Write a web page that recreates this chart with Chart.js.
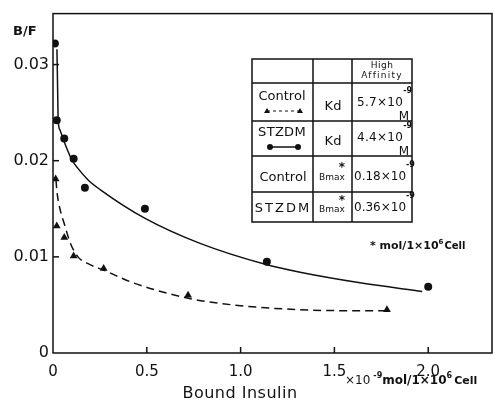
<!DOCTYPE html>
<html><head><meta charset="utf-8">
<script src="https://cdn.jsdelivr.net/npm/chart.js@4.4.0/dist/chart.umd.min.js"></script>
<style>html,body{margin:0;padding:0;background:#fff;}canvas{display:block;}</style>
</head><body>
<canvas id="c" width="501" height="410"></canvas>
<script>
// ---- data ----
const stzdmX = [0.01, 0.02, 0.06, 0.11, 0.17, 0.49, 1.14, 2.0];
const stzdmY = [0.0322, 0.0242, 0.0223, 0.0202, 0.0172, 0.0150, 0.0095, 0.0069];
const controlX = [0.014, 0.02, 0.06, 0.11, 0.27, 0.72, 1.78];
const controlY = [0.0181, 0.0132, 0.0120, 0.0101, 0.0088, 0.0060, 0.0045];
const stzdmFitX = [0.021, 0.024, 0.028, 0.037, 0.053, 0.100, 0.133, 0.187, 0.251, 0.491, 0.784, 1.136, 1.317, 1.637, 1.968];
const stzdmFitY = [0.0316, 0.0282, 0.0241, 0.0232, 0.0223, 0.0201, 0.0192, 0.0180, 0.0170, 0.0140, 0.0114, 0.0092, 0.0084, 0.0073, 0.0064];
const controlFitX = [0.016, 0.021, 0.037, 0.064, 0.091, 0.133, 0.197, 0.272, 0.427, 0.72, 0.96, 1.317, 1.637, 1.77];
const controlFitY = [0.0180, 0.0168, 0.0150, 0.0132, 0.0115, 0.0100, 0.0092, 0.0086, 0.0073, 0.0057, 0.0050, 0.0045, 0.0044, 0.0044];
const xTicks = [0, 0.5, 1.0, 1.5, 2.0];
const xTickLabels = ['0', '0.5', '1.0', '1.5', '2.0'];
const yTicks = [0, 0.01, 0.02, 0.03];
const yTickLabels = ['0', '0.01', '0.02', '0.03'];
const xMax = 2.34, yMax = 0.0353;

function pts(xs, ys) { return xs.map((x, i) => ({ x: x, y: ys[i] })); }
const INK = '#111';
const FONT = '"DejaVu Sans", "Liberation Sans", sans-serif';

function txt(ctx, s, x, y, size, opts) {
  opts = opts || {};
  ctx.font = (opts.bold ? 'bold ' : '') + size + 'px ' + FONT;
  ctx.textAlign = opts.align || 'left';
  ctx.textBaseline = 'middle';
  try { ctx.letterSpacing = (opts.ls || 0) + 'px'; } catch (e) {}
  ctx.fillStyle = INK;
  ctx.fillText(s, x, y);
  const w = ctx.measureText(s).width;
  try { ctx.letterSpacing = '0px'; } catch (e) {}
  return w;
}

const decor = {
  id: 'decor',
  afterDraw(chart) {
    const ctx = chart.ctx, a = chart.chartArea;
    const xs = chart.scales.x, ys = chart.scales.y;
    ctx.save();
    ctx.strokeStyle = INK;
    ctx.lineWidth = 1.5;
    ctx.strokeRect(a.left, a.top, a.right - a.left, a.bottom - a.top);
    // inward ticks
    xTicks.forEach(v => { if (v === 0) return; const p = xs.getPixelForValue(v);
      ctx.beginPath(); ctx.moveTo(p, a.bottom); ctx.lineTo(p, a.bottom - 6); ctx.stroke(); });
    yTicks.forEach(v => { if (v === 0) return; const p = ys.getPixelForValue(v);
      ctx.beginPath(); ctx.moveTo(a.left, p); ctx.lineTo(a.left + 6, p); ctx.stroke(); });

    // axis texts
    txt(ctx, 'B/F', 13, 32, 13, { bold: true });
    txt(ctx, 'Bound Insulin', 240, 394, 16, { align: 'center', ls: 0.5 });
    let x = 345, y = 381;
    x += txt(ctx, '\u00d710', x, y, 12) + 3;
    x += txt(ctx, '-9', x, y - 5, 8, { bold: true });
    x += txt(ctx, 'mol/1\u00d710', x, y, 12, { bold: true });
    x += txt(ctx, '6', x, y - 5, 8, { bold: true }) + 2;
    txt(ctx, 'Cell', x, y, 11, { bold: true });

    // table
    const L = 252, C1 = 313, C2 = 352, R = 412;
    const rows = [59, 83, 121, 156, 192, 222];
    ctx.fillStyle = '#fff';
    ctx.fillRect(L, rows[0], R - L, rows[5] - rows[0]);
    ctx.lineWidth = 1.5;
    ctx.strokeRect(L, rows[0], R - L, rows[5] - rows[0]);
    ctx.beginPath();
    [C1, C2].forEach(c => { ctx.moveTo(c, rows[0]); ctx.lineTo(c, rows[5]); });
    rows.slice(1, 5).forEach(r => { ctx.moveTo(L, r); ctx.lineTo(R, r); });
    ctx.stroke();

    txt(ctx, 'High', 382, 66, 9, { align: 'center', ls: 0.5 });
    txt(ctx, 'Affinity', 382, 76, 9, { align: 'center', ls: 1.2 });

    // row 1
    txt(ctx, 'Control', 282, 97, 13, { align: 'center' });
    ctx.save(); ctx.lineWidth = 1; ctx.setLineDash([3, 3]);
    ctx.beginPath(); ctx.moveTo(267, 111); ctx.lineTo(300, 111); ctx.stroke(); ctx.restore();
    [267, 300].forEach(px => { ctx.beginPath(); ctx.moveTo(px, 108); ctx.lineTo(px + 3, 113); ctx.lineTo(px - 3, 113); ctx.closePath(); ctx.fillStyle = INK; ctx.fill(); });
    txt(ctx, 'Kd', 333, 107, 13, { align: 'center' });
    let w = txt(ctx, '5.7\u00d710', 357, 103, 12, { ls: 0.3 });
    txt(ctx, '-9', 357 + w, 91, 8, { bold: true });
    txt(ctx, 'M', 409, 117, 12, { align: 'right' });

    // row 2
    txt(ctx, 'STZDM', 282, 133, 13, { align: 'center', ls: 0.3 });
    ctx.save(); ctx.lineWidth = 1.5;
    ctx.beginPath(); ctx.moveTo(270, 147); ctx.lineTo(298, 147); ctx.stroke(); ctx.restore();
    [270, 298].forEach(px => { ctx.beginPath(); ctx.arc(px, 147, 3, 0, Math.PI * 2); ctx.fillStyle = INK; ctx.fill(); });
    txt(ctx, 'Kd', 333, 142, 13, { align: 'center' });
    w = txt(ctx, '4.4\u00d710', 357, 138, 12, { ls: 0.3 });
    txt(ctx, '-9', 357 + w, 126, 8, { bold: true });
    txt(ctx, 'M', 409, 152, 12, { align: 'right' });

    // row 3
    txt(ctx, 'Control', 283, 178, 13, { align: 'center' });
    txt(ctx, 'Bmax', 332, 178, 9, { align: 'center' });
    txt(ctx, '*', 342, 168, 12, { align: 'center', bold: true });
    w = txt(ctx, '0.18\u00d710', 354, 177, 12);
    txt(ctx, '-9', 354 + w, 165, 8, { bold: true });

    // row 4
    txt(ctx, 'STZDM', 283, 209, 13, { align: 'center', ls: 2 });
    txt(ctx, 'Bmax', 332, 210, 9, { align: 'center' });
    txt(ctx, '*', 342, 201, 12, { align: 'center', bold: true });
    w = txt(ctx, '0.36\u00d710', 354, 208, 12);
    txt(ctx, '-9', 354 + w, 196, 8, { bold: true });

    // footnote
    x = 370; y = 246;
    x += txt(ctx, '* mol/1\u00d710', x, y, 11, { bold: true });
    x += txt(ctx, '6', x, y - 4, 7, { bold: true }) + 1;
    txt(ctx, 'Cell', x, y, 10, { bold: true });
    ctx.restore();
  }
};

new Chart(document.getElementById('c'), {
  type: 'scatter',
  data: {
    datasets: [
      { label: 'STZDM fit', data: pts(stzdmFitX, stzdmFitY), showLine: true, borderColor: INK, borderWidth: 1.5,
        pointRadius: 0, cubicInterpolationMode: 'monotone', fill: false },
      { label: 'Control fit', data: pts(controlFitX, controlFitY), showLine: true, borderColor: INK, borderWidth: 1.5,
        borderDash: [8, 5], pointRadius: 0, cubicInterpolationMode: 'monotone', fill: false },
      { label: 'STZDM', data: pts(stzdmX, stzdmY), showLine: false, pointStyle: 'circle', pointRadius: 4,
        backgroundColor: INK, borderColor: INK, borderWidth: 0 },
      { label: 'Control', data: pts(controlX, controlY), showLine: false, pointStyle: 'triangle', pointRadius: 4.5,
        backgroundColor: INK, borderColor: INK, borderWidth: 0 }
    ]
  },
  options: {
    responsive: false, animation: false, devicePixelRatio: 1,
    layout: { padding: { left: 0, top: 11, right: 9, bottom: 0 } },
    plugins: { legend: { display: false }, tooltip: { enabled: false } },
    scales: {
      x: {
        type: 'linear', min: 0, max: xMax,
        afterBuildTicks: s => { s.ticks = xTicks.map(v => ({ value: v })); },
        afterFit: s => { s.height = 57; },
        ticks: { callback: (v, i) => xTickLabels[i], color: INK, font: { family: FONT, size: 15 }, padding: 10, maxRotation: 0, autoSkip: false },
        grid: { display: false, drawTicks: false }, border: { display: false }
      },
      y: {
        type: 'linear', min: 0, max: yMax,
        afterBuildTicks: s => { s.ticks = yTicks.map(v => ({ value: v })); },
        afterFit: s => { s.width = 53; },
        ticks: { callback: (v, i) => yTickLabels[i], color: INK, font: { family: FONT, size: 16 }, padding: 4, autoSkip: false },
        grid: { display: false, drawTicks: false }, border: { display: false }
      }
    }
  },
  plugins: [decor]
});
</script>
</body></html>
